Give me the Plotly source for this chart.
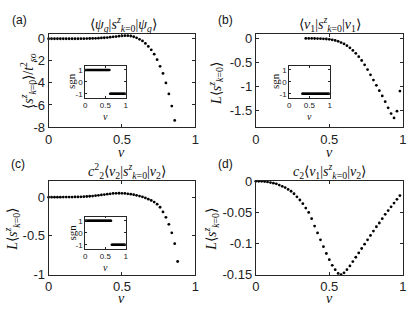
import plotly.graph_objects as go

# ---------------- data ----------------
nu_a = [round(0.02 * i, 2) for i in range(44)]  # 0 .. 0.86
val_a = [0, 0, 0, 0, 0, 0, 0, 0, 0, 0, 0.001,
         0.005, 0.01, 0.015, 0.02, 0.03, 0.04, 0.05, 0.07, 0.09, 0.11,
         0.14, 0.17, 0.2, 0.23, 0.26, 0.28, 0.28, 0.25, 0.18, 0.08,
         -0.05, -0.2, -0.42, -0.7, -1.0, -1.4, -1.9, -2.5, -3.14, -4.0,
         -5.0, -6.1, -7.4]

nu_b = [round(0.34 + 0.02 * i, 2) for i in range(33)]  # 0.34 .. 0.98
val_b = [0, 0, 0, -0.001, -0.002, -0.004, -0.007, -0.011, -0.018, -0.028,
         -0.042, -0.06, -0.085, -0.115, -0.15, -0.195, -0.25, -0.31, -0.38,
         -0.46, -0.55, -0.65, -0.76, -0.87, -0.98, -1.09, -1.2, -1.32,
         -1.45, -1.57, -1.66, -1.52, -1.1]

nu_c = [round(0.02 * i, 2) for i in range(45)]  # 0 .. 0.88
val_c = [0, 0, 0, 0, 0, 0.001, 0.001, 0.002, 0.002, 0.003, 0.004,
         0.005, 0.007, 0.009, 0.012, 0.015, 0.019, 0.024, 0.029, 0.034,
         0.039, 0.044, 0.048, 0.05, 0.051, 0.05, 0.048, 0.044, 0.039,
         0.032, 0.024, 0.014, 0.003, -0.01, -0.025, -0.042, -0.063, -0.09,
         -0.13, -0.19, -0.26, -0.35, -0.46, -0.6, -0.83]

nu_d = [round(0.02 * i, 2) for i in range(50)]  # 0 .. 0.98
val_d = [0, 0, 0, -0.0003, -0.001, -0.002, -0.003, -0.004, -0.006, -0.008,
         -0.01, -0.013, -0.016, -0.02, -0.025, -0.03, -0.036, -0.043,
         -0.05, -0.06, -0.072, -0.083, -0.094, -0.105, -0.116, -0.126,
         -0.135, -0.142, -0.148, -0.15, -0.147, -0.142, -0.136, -0.129,
         -0.122, -0.115, -0.108, -0.101, -0.094, -0.087, -0.08, -0.073,
         -0.067, -0.06, -0.053, -0.047, -0.041, -0.035, -0.029, -0.023]

# sign insets (main-curve sign, plus tail beyond the main plot range)
sgn_a_tail_nu = [0.88, 0.9, 0.92, 0.94, 0.96, 0.98, 1.0]
sgn_a_tail = [-1, -1, -1, -1, -1, -1, -1]
sgn_c_tail_nu = [0.9, 0.92, 0.94, 0.96, 0.98, 1.0]
sgn_c_tail = [-1, -1, -1, -1, -1, -1]
sgn_b_tail_nu = [1.0]
sgn_b_tail = [-1]


def sgn(v):
    return 1 if v > 0 else (-1 if v < 0 else 1)


ins_a_nu = nu_a + sgn_a_tail_nu
ins_a = [sgn(v) for v in val_a] + sgn_a_tail
ins_b_nu = [0.33] + nu_b + sgn_b_tail_nu
ins_b = [-1] + [-1 for v in val_b] + sgn_b_tail
ins_c_nu = nu_c + sgn_c_tail_nu
ins_c = [sgn(v) for v in val_c] + sgn_c_tail

x_ticks = [0, 0.5, 1]
x_ticktext = ["0", "0.5", "1"]
ya_ticks = [0, -2, -4, -6, -8]
ya_text = ["0", "-2", "-4", "-6", "-8"]
yb_ticks = [0, -0.5, -1, -1.5]
yb_text = ["0", "-0.5", "-1", "-1.5"]
yc_ticks = [0, -0.5, -1]
yc_text = ["0", "-0.5", "-1"]
yd_ticks = [0, -0.05, -0.1, -0.15]
yd_text = ["0", "-0.05", "-0.1", "-0.15"]
ins_y_ticks = [-1, 0, 1]
ins_y_text = ["-1", "0", "1"]

# ---------------- layout helpers ----------------
W, H = 415, 316


def px(x0, x1):
    return [x0 / W, x1 / W]


def py(y0, y1):  # y0 top px, y1 bottom px
    return [1 - y1 / H, 1 - y0 / H]


AX = "#262626"
SANS = "Liberation Sans"
SERIF = "Liberation Serif"


def axis(dom, rng, tv, tt, size=13, tl=3, anchor=None, lw=1):
    d = dict(domain=dom, range=rng, tickvals=tv, ticktext=tt,
             showline=True, linecolor=AX, linewidth=lw, mirror="allticks",
             ticks="inside", ticklen=tl, tickcolor=AX, tickwidth=lw,
             showgrid=False, zeroline=False,
             tickfont=dict(family=SANS, size=size, color="#222"))
    if anchor:
        d["anchor"] = anchor
    return d


fig = go.Figure()
mk = dict(color="black", size=2.8)
fig.add_trace(go.Scatter(x=nu_a, y=val_a, mode="markers", marker=mk,
                         xaxis="x", yaxis="y", cliponaxis=False))
fig.add_trace(go.Scatter(x=nu_b, y=val_b, mode="markers", marker=mk,
                         xaxis="x2", yaxis="y2", cliponaxis=False))
fig.add_trace(go.Scatter(x=nu_c, y=val_c, mode="markers", marker=mk,
                         xaxis="x3", yaxis="y3", cliponaxis=False))
fig.add_trace(go.Scatter(x=nu_d, y=val_d, mode="markers", marker=mk,
                         xaxis="x4", yaxis="y4", cliponaxis=False))
imk = dict(color="black", size=2.6)
fig.add_trace(go.Scatter(x=ins_a_nu, y=ins_a, mode="markers", marker=imk,
                         xaxis="x5", yaxis="y5"))
fig.add_trace(go.Scatter(x=ins_b_nu, y=ins_b, mode="markers", marker=imk,
                         xaxis="x6", yaxis="y6"))
fig.add_trace(go.Scatter(x=ins_c_nu, y=ins_c, mode="markers", marker=imk,
                         xaxis="x7", yaxis="y7"))

XL, XR = px(45.5, 195), px(256.7, 406.7)
YT, YB = py(28, 126), py(183, 281)
IXL, IXR = px(82.7, 124), px(290.7, 332)
IYT, IYB = py(61.7, 95.5), py(220, 254)

fig.update_layout(
    width=W, height=H, margin=dict(l=0, r=0, t=0, b=0),
    paper_bgcolor="white", plot_bgcolor="rgba(0,0,0,0)",
    showlegend=False,
    xaxis=axis(XL, [0, 1], x_ticks, x_ticktext, anchor="y"),
    yaxis=axis(YT, [-8, 0.46], ya_ticks, ya_text, anchor="x"),
    xaxis2=axis(XR, [0, 1], x_ticks, x_ticktext, anchor="y2"),
    yaxis2=axis(YT, [-1.85, 0.1], yb_ticks, yb_text, anchor="x2"),
    xaxis3=axis(XL, [0, 1], x_ticks, x_ticktext, anchor="y3"),
    yaxis3=axis(YB, [-1, 0.205], yc_ticks, yc_text, anchor="x3"),
    xaxis4=axis(XR, [0, 1], x_ticks, x_ticktext, anchor="y4"),
    yaxis4=axis(YB, [-0.15, 0], yd_ticks, yd_text, anchor="x4"),
    xaxis5=axis(IXL, [0, 1], x_ticks, x_ticktext, size=8, tl=2, anchor="y5", lw=0.8),
    yaxis5=axis(IYT, [-1.35, 1.35], ins_y_ticks, ins_y_text, size=8, tl=2, anchor="x5", lw=0.8),
    xaxis6=axis(IXR, [0, 1], x_ticks, x_ticktext, size=8, tl=2, anchor="y6", lw=0.8),
    yaxis6=axis(IYT, [-1.35, 1.35], ins_y_ticks, ins_y_text, size=8, tl=2, anchor="x6", lw=0.8),
    xaxis7=axis(IXL, [0, 1], x_ticks, x_ticktext, size=8, tl=2, anchor="y7", lw=0.8),
    yaxis7=axis(IYB, [-1.35, 1.35], ins_y_ticks, ins_y_text, size=8, tl=2, anchor="x7", lw=0.8),
)

ann = []


def add(text, x, y, size=13, fam=SERIF, angle=0):
    ann.append(dict(text=text, x=x / W, y=1 - y / H, xref="paper", yref="paper",
                    showarrow=False, textangle=angle, xanchor="center", yanchor="middle",
                    font=dict(family=fam, size=size, color="#111")))


SZ = "<i>s</i><sup><i>z</i></sup><sub><i>k</i>=0</sub>"
add("⟨<i>ψ</i><sub><i>g</i></sub>|" + SZ + "|<i>ψ</i><sub><i>g</i></sub>⟩", 122, 18, 14)
add("⟨<i>v</i><sub>1</sub>|" + SZ + "|<i>v</i><sub>1</sub>⟩", 332, 18, 14)
add("<i>c</i><sup>2</sup><sub>2</sub>⟨<i>v</i><sub>2</sub>|" + SZ + "|<i>v</i><sub>2</sub>⟩", 125, 172, 14)
add("<i>c</i><sub>2</sub>⟨<i>v</i><sub>1</sub>|" + SZ + "|<i>v</i><sub>2</sub>⟩", 332, 172, 14)

add("(a)", 16, 14, 12, SANS)
add("(b)", 226, 14, 12, SANS)
add("(c)", 14, 165, 12, SANS)
add("(d)", 226, 165, 12, SANS)

add("⟨" + SZ + "⟩/<i>t</i><sup>2</sup><sub><i>so</i></sub>", 25, 78, 14, angle=-90)
add("<i>L</i>⟨" + SZ + "⟩", 216, 80, 14, angle=-90)
add("<i>L</i>⟨" + SZ + "⟩", 8, 233, 14, angle=-90)
add("<i>L</i>⟨" + SZ + "⟩", 211, 233, 14, angle=-90)

add("<i>ν</i>", 120, 153, 14)
add("<i>ν</i>", 332, 153, 14)
add("<i>ν</i>", 120, 306, 14)
add("<i>ν</i>", 332, 306, 14)

# inset labels
add("sgn", 69, 78, 11, angle=-90)
add("sgn", 277, 78, 11, angle=-90)
add("sgn", 69, 237, 11, angle=-90)
add("<i>ν</i>", 103, 115, 10)
add("<i>ν</i>", 311, 115, 10)
add("<i>ν</i>", 103, 273, 10)

fig.update_layout(annotations=ann)
fig.write_html("out.html", config={"displayModeBar": False},
               post_script="document.body.style.margin='0';document.body.style.overflow='hidden';")
